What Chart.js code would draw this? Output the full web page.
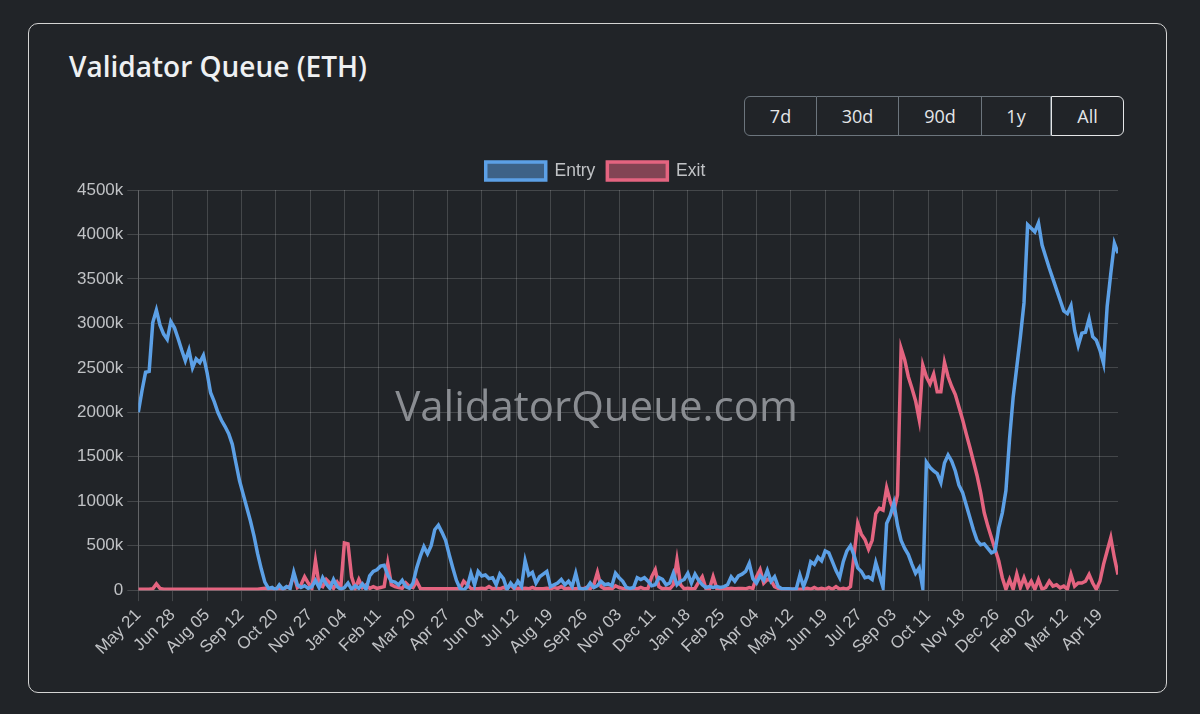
<!DOCTYPE html>
<html>
<head>
<meta charset="utf-8">
<title>Validator Queue (ETH)</title>
<script src="https://cdn.jsdelivr.net/npm/chart.js@4.4.1/dist/chart.umd.min.js"></script>
<style>
  html, body { margin: 0; padding: 0; }
  body {
    width: 1200px; height: 714px; overflow: hidden;
    background: #212428;
    font-family: "Open Sans", "Noto Sans", sans-serif;
    position: relative;
  }
  .card {
    position: absolute; left: 28px; top: 23px;
    width: 1137px; height: 668px;
    border: 1px solid #d4d4d4; border-radius: 10px;
    background: #212428;
  }
  .title {
    position: absolute; left: 69px; top: 50px; margin: 0;
    font-size: 28px; font-weight: 600; color: #eef0f2;
    line-height: 1.2;
  }
  .btn-group {
    position: absolute; left: 744px; top: 96px; height: 40px;
    display: flex;
  }
  .btn-group button {
    height: 40px; margin: 0; padding: 0;
    background: transparent; color: #e4e6e8;
    border: 1px solid #6c757d; border-left-width: 0;
    font-family: inherit; font-size: 18px;
  }
  .btn-group button:first-child { border-left-width: 1px; border-radius: 6px 0 0 6px; }
  .btn-group button:last-child { border-radius: 0 6px 6px 0; }
  .btn-group button.active { border: 1px solid #e4e6e8; }
  .chart-box {
    position: absolute; left: 69px; top: 150px; width: 1055px; height: 513px;
  }
</style>
</head>
<body>
<div class="card"></div>
<h2 class="title">Validator Queue (ETH)</h2>
<div class="btn-group">
  <button style="width:73px">7d</button>
  <button style="width:82px">30d</button>
  <button style="width:83px">90d</button>
  <button style="width:69px">1y</button>
  <button style="width:73px" class="active">All</button>
</div>
<div class="chart-box"><canvas id="queueChart"></canvas></div>

<script>
// x axis labels, one every 38 days starting May 21
const tickLabels = ['May 21', 'Jun 28', 'Aug 05', 'Sep 12', 'Oct 20', 'Nov 27', 'Jan 04', 'Feb 11',
    'Mar 20', 'Apr 27', 'Jun 04', 'Jul 12', 'Aug 19', 'Sep 26', 'Nov 03', 'Dec 11', 'Jan 18',
    'Feb 25', 'Apr 04', 'May 12', 'Jun 19', 'Jul 27', 'Sep 03', 'Oct 11', 'Nov 18', 'Dec 26',
    'Feb 02', 'Mar 12', 'Apr 19'];
const TICK_STEP_DAYS = 38;
const SAMPLE_STEP_DAYS = 4;   // one reading every 4 days
const LAST_DAY = 1084;

// Entry queue (thousand ETH), one value every 4 days
const entryQueue = [
    2000, 2240, 2450, 2460, 3010, 3150, 2980, 2880, 2820, 3020, 2950, 2830, 2700, 2580, 2700, 2500,
    2600, 2560, 2640, 2450, 2220, 2120, 2000, 1910, 1840, 1760, 1640, 1430, 1230, 1080, 930, 780,
    610, 410, 240, 90, 20,
    30, 0, 60, 10, 40, 20, 200, 60, 30, 50, 20, 40, 110, 30, 140, 70, 20, 120, 40, 10, 30, 80, 10,
    50, 20, 70, 10, 160, 210, 230, 270, 280, 170, 100, 90, 60, 110, 40, 20, 80, 250, 380, 490, 410,
    500, 680, 730, 650, 560, 400, 250, 110, 20, 0, 40, 190, 60, 210, 160, 170, 130, 140, 60, 180,
    130, 10, 80, 30, 100, 40, 330, 170, 200, 80,
    150, 180, 210, 40, 60, 80, 120, 60, 100, 40, 190, 20, 10, 20, 80, 30, 50, 100, 60, 70, 50, 190,
    140, 100, 30, 20, 30, 140, 120, 140, 100, 50, 60, 140, 120, 60, 80, 190, 60, 100, 120, 190, 80,
    180, 110, 60, 30, 40, 30, 40, 30, 40, 60, 150, 100, 160, 180, 210, 300, 130, 80, 160, 110, 220,
    100, 150, 40, 15, 15, 15, 10, 15, 170, 40, 150,
    320, 290, 370, 330, 440, 420, 320, 220, 140, 320, 440, 500, 390, 250, 210, 140, 150, 120, 310,
    170, 30, 750, 840, 980, 730, 560, 470, 400, 290, 190, 250, 20, 1440, 1380, 1340, 1310, 1210,
    1430, 1520, 1450, 1340, 1180, 1100, 960, 820, 680, 560, 510,
    520, 470, 420, 440, 700, 870, 1120, 1700, 2170, 2510, 2850, 3230, 4110, 4070, 4030, 4130, 3880,
    3750, 3620, 3500, 3380, 3260, 3140, 3110, 3200, 2920, 2750, 2890, 2900, 3050, 2850, 2810, 2700,
    2550, 3190, 3560, 3900, 3790
];

// Exit queue (thousand ETH), same dates
const exitQueue = [
    10, 10, 10, 10, 15, 70, 20, 10, 10, 10, 10, 10, 10, 10, 10, 10, 10, 10, 10, 10, 10, 10, 10, 10,
    10, 10, 10, 10, 10, 10, 10, 10, 10, 10, 15, 20, 10,
    10, 15, 20, 10, 30, 50, 170, 30, 60, 150, 80, 20, 330, 60, 40, 120, 80, 20, 90, 30, 530, 520,
    150, 20, 120, 30, 60, 20, 40, 20, 30, 40, 300, 60, 40, 30, 20, 80, 40, 30, 100, 20, 15, 15, 15,
    15, 15, 15, 15, 15, 15, 15, 15, 100, 60, 20, 15, 15, 20, 15, 40, 15, 20, 15, 30, 15, 60, 15, 20,
    15, 20, 15, 30, 15,
    15, 15, 20, 15, 30, 20, 40, 15, 20, 15, 15, 20, 15, 30, 15, 60, 200, 40, 15, 20, 15, 50, 30, 20,
    15, 15, 20, 15, 30, 15, 20, 150, 230, 40, 15, 20, 15, 60, 340, 60, 15, 20, 15, 20, 90, 150, 20,
    15, 150, 20, 15, 15, 15, 20, 15, 20, 20, 15, 30, 20, 150, 230, 80, 120, 110, 40, 20,
    10, 10, 10, 10, 10, 10, 10, 20, 10, 30, 10, 20, 10, 30, 10, 40, 10, 20, 10, 40, 400, 750, 630,
    570, 460, 560, 860, 920, 900, 1150, 1000, 890, 1070, 2720, 2590, 2400, 2270, 2130, 1920, 2530,
    2400, 2320, 2430, 2230, 2230, 2560, 2400, 2290, 2200, 2060, 1920, 1760, 1610, 1450, 1290, 1100,
    870, 720, 590, 460, 330, 140, 10, 120, 10, 180, 30, 140, 30, 100, 10, 120, 10, 30, 100, 45, 60,
    25, 45, 10, 175, 45, 80, 80, 100, 175, 80, 10, 100, 290, 440, 590, 365, 175
];

const textColor = '#c0c2c5';
const gridColor = 'rgba(255, 255, 255, 0.16)';

Chart.defaults.font.family = 'Arial, "Liberation Sans", sans-serif';
Chart.defaults.font.size = 17;
Chart.defaults.color = textColor;

// Draw the site name faintly behind the lines
const watermarkPlugin = {
    id: 'watermark',
    beforeDatasetsDraw(chart) {
        const ctx = chart.ctx;
        ctx.save();
        ctx.font = '400 42px "Open Sans", sans-serif';
        ctx.fillStyle = '#8a8d92';
        ctx.textAlign = 'center';
        ctx.textBaseline = 'middle';
        ctx.fillText('ValidatorQueue.com', chart.width / 2, chart.height / 2 + 3);
        ctx.restore();
    }
};

function toPoints(values) {
    return values.map((v, i) => ({ x: i * SAMPLE_STEP_DAYS, y: v }));
}

const ctx = document.getElementById('queueChart').getContext('2d');
new Chart(ctx, {
    type: 'line',
    data: {
        datasets: [
            {
                label: 'Entry',
                data: toPoints(entryQueue),
                borderColor: 'rgb(92, 160, 230)',
                backgroundColor: 'rgba(92, 160, 230, 0.5)',
                borderWidth: 3.5,
                pointRadius: 0,
                tension: 0
            },
            {
                label: 'Exit',
                data: toPoints(exitQueue),
                borderColor: 'rgb(228, 100, 128)',
                backgroundColor: 'rgba(228, 100, 128, 0.5)',
                borderWidth: 3.5,
                pointRadius: 0,
                tension: 0
            }
        ]
    },
    options: {
        responsive: true,
        maintainAspectRatio: false,
        animation: false,
        layout: { padding: { left: 4, right: 6 } },
        plugins: {
            legend: {
                labels: {
                    boxWidth: 60,
                    boxHeight: 18,
                    padding: 12,
                    color: textColor,
                    font: { size: 17.5 }
                }
            },
            tooltip: { enabled: false }
        },
        scales: {
            x: {
                type: 'linear',
                min: 0,
                max: LAST_DAY,
                afterBuildTicks: axis => {
                    axis.ticks = tickLabels.map((_, i) => ({ value: i * TICK_STEP_DAYS }));
                },
                ticks: {
                    autoSkip: false,
                    minRotation: 45,
                    maxRotation: 45,
                    padding: 4,
                    callback: value => tickLabels[Math.round(value / TICK_STEP_DAYS)]
                },
                grid: { color: gridColor, tickLength: 11 },
                border: { color: gridColor }
            },
            y: {
                min: 0,
                max: 4500,
                ticks: {
                    stepSize: 500,
                    padding: 4,
                    callback: value => value === 0 ? '0' : value + 'k'
                },
                grid: { color: gridColor, tickLength: 11 },
                border: { color: gridColor }
            }
        }
    },
    plugins: [watermarkPlugin]
});
</script>
</body>
</html>
